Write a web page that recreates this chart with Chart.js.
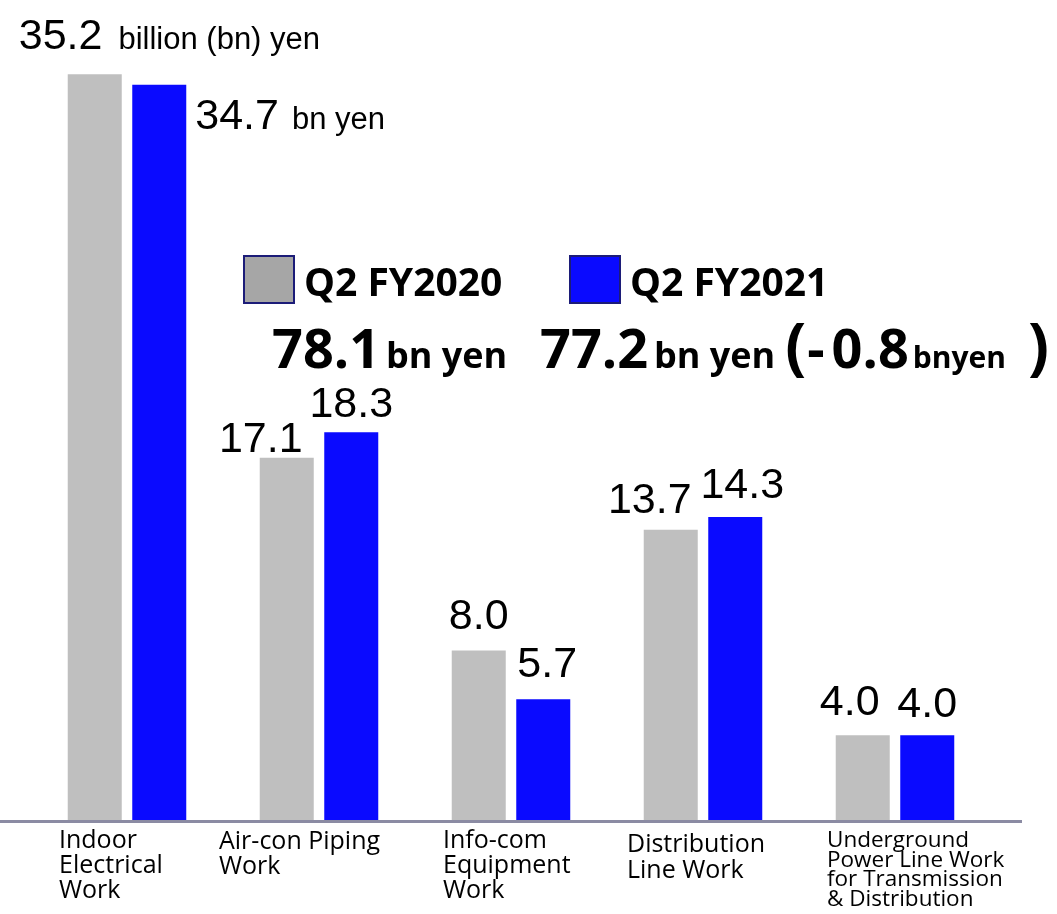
<!DOCTYPE html>
<html>
<head>
<meta charset="utf-8">
<title>Orders received by work type</title>
<script src="https://cdn.jsdelivr.net/npm/chart.js@4.4.1/dist/chart.umd.min.js"></script>
<style>
  html, body { margin: 0; padding: 0; background: #ffffff; }
  canvas { display: block; }
</style>
</head>
<body>
<canvas id="workChart" width="1057" height="914"></canvas>
<script>
// --- data ---
const categories = [
  ["Indoor", "Electrical", "Work"],
  ["Air-con Piping", "Work"],
  ["Info-com", "Equipment", "Work"],
  ["Distribution", "Line Work"],
  ["Underground", "Power Line Work", "for Transmission", "& Distribution"]
];
const seriesNames = ["Q2 FY2020", "Q2 FY2021"];
const fy2020 = [35.2, 17.1, 8.0, 13.7, 4.0];
const fy2021 = [34.7, 18.3, 5.7, 14.3, 4.0];
const totals = [78.1, 77.2];
const change = -0.8;
const firstUnits = ["billion (bn) yen", "bn yen"];
const yMax = 38.7;

// --- look ---
const GRAY = "#bfbfbf";
const BLUE = "#0a0aff";
const VALUE_FONT = "43px 'Liberation Sans', Arial, sans-serif";
const UNIT_FONT = "31px 'Liberation Sans', Arial, sans-serif";
const BOLD = "'Open Sans', 'Noto Sans', sans-serif";

// value label nudges: [dx from bar centre, gap above bar top, align]
const nudges = [
  [[-76, 25, "left"], [-26, 6], [0, 21], [-21, 17], [-13, 20]],
  [[36, -44, "left"], [0, 15], [4, 22], [7, 19], [0, 18]]
];

// category label layout, relative to category centre / axis line
const tickLayout = [
  { dx: -68, top: 28, lh: 25, size: 25 },
  { dx: -100, top: 29, lh: 25, size: 25 },
  { dx: -68, top: 28, lh: 25, size: 25 },
  { dx: -76, top: 32, lh: 26, size: 25 },
  { dx: -68, top: 27, lh: 19.5, size: 22.5 }
];

const fmt = v => v.toFixed(1);

function drawValueLabels(chart) {
  const ctx = chart.ctx;
  chart.data.datasets.forEach((ds, i) => {
    const meta = chart.getDatasetMeta(i);
    meta.data.forEach((bar, j) => {
      const [dx, gap, align] = nudges[i][j];
      const text = fmt(ds.data[j]);
      ctx.font = VALUE_FONT;
      ctx.fillStyle = "#000";
      ctx.textBaseline = "alphabetic";
      if (align === "left") {
        const x = bar.x + dx;
        const y = bar.y - gap;
        ctx.textAlign = "left";
        ctx.fillText(text, x, y);
        const w = ctx.measureText(text).width;
        ctx.font = UNIT_FONT;
        ctx.fillText(firstUnits[i], x + w + (i === 0 ? 16 : 13), y);
      } else {
        ctx.textAlign = "center";
        ctx.fillText(text, bar.x + dx, bar.y - gap);
      }
    });
  });
}

function drawCategoryLabels(chart) {
  const { ctx, chartArea, scales } = chart;
  ctx.fillStyle = "#000";
  ctx.textAlign = "left";
  ctx.textBaseline = "alphabetic";
  categories.forEach((lines, i) => {
    const lay = tickLayout[i];
    const x = scales.x.getPixelForValue(i) + lay.dx;
    ctx.font = lay.size + "px 'Open Sans', 'Noto Sans', sans-serif";
    lines.forEach((line, k) => {
      ctx.fillText(line, x, chartArea.bottom + lay.top + k * lay.lh);
    });
  });
}

function drawLegend(chart) {
  const ctx = chart.ctx;
  const boxes = [
    { x: 244, y: 256, fill: "#a6a6a6" },
    { x: 570, y: 256, fill: BLUE }
  ];
  chart.data.datasets.forEach((ds, i) => {
    const b = boxes[i];
    ctx.fillStyle = b.fill;
    ctx.fillRect(b.x, b.y, 50, 47);
    ctx.strokeStyle = "#1c1c78";
    ctx.lineWidth = 2;
    ctx.strokeRect(b.x, b.y, 50, 47);
    ctx.fillStyle = "#000";
    ctx.font = "bold 39px " + BOLD;
    ctx.textAlign = "left";
    ctx.fillText(ds.label, b.x + 60, 296);
  });
}

function drawTotals(chart) {
  const ctx = chart.ctx;
  ctx.fillStyle = "#000";
  ctx.textAlign = "left";
  ctx.textBaseline = "alphabetic";
  const base = 368;
  let x;
  const put = (text, size, gap) => {
    ctx.font = "bold " + size + "px " + BOLD;
    ctx.fillText(text, x, base);
    x += ctx.measureText(text).width + gap;
  };
  x = 272;
  put(fmt(totals[0]), 54, 6);
  put("bn yen", 36, 0);
  x = 540;
  put(fmt(totals[1]), 54, 6);
  put("bn yen", 36, 10);
  put("(", 62, 1);
  put("-", 54, 7);
  put(fmt(Math.abs(change)), 54, 4);
  put("bnyen", 30, 22);
  put(")", 62, 0);
}

const labelsPlugin = {
  id: "workLabels",
  afterDatasetsDraw(chart) {
    const { ctx, chartArea } = chart;
    ctx.save();
    ctx.strokeStyle = "#8b8ba3";
    ctx.lineWidth = 3;
    ctx.beginPath();
    ctx.moveTo(0, chartArea.bottom + 1.5);
    ctx.lineTo(chartArea.right + 31, chartArea.bottom + 1.5);
    ctx.stroke();
    drawValueLabels(chart);
    drawCategoryLabels(chart);
    drawLegend(chart);
    drawTotals(chart);
    ctx.restore();
  }
};

const chart = new Chart(document.getElementById("workChart"), {
  type: "bar",
  data: {
    labels: categories,
    datasets: [
      { label: seriesNames[0], data: fy2020, backgroundColor: GRAY, borderWidth: 0 },
      { label: seriesNames[1], data: fy2021, backgroundColor: BLUE, borderWidth: 0 }
    ]
  },
  options: {
    responsive: false,
    animation: false,
    layout: { padding: { left: 31, right: 66, top: 0, bottom: 94 } },
    datasets: {
      bar: { categoryPercentage: 0.672, barPercentage: 0.837 }
    },
    plugins: {
      legend: { display: false },
      tooltip: { enabled: false }
    },
    scales: {
      x: { display: false },
      y: { display: false, min: 0, max: yMax }
    }
  },
  plugins: [labelsPlugin]
});
</script>
</body>
</html>
